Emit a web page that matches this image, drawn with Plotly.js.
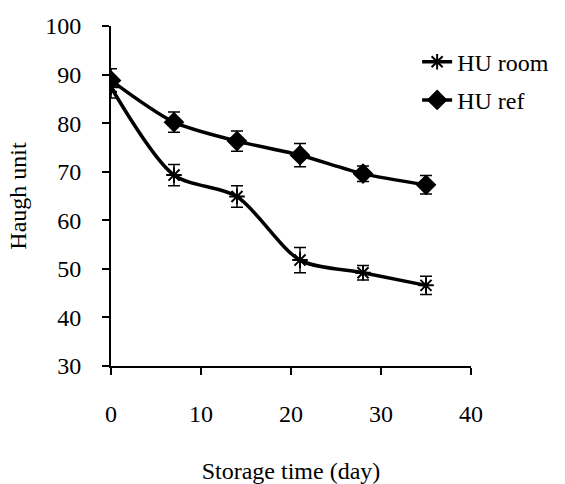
<!DOCTYPE html>
<html>
<head>
<meta charset="utf-8">
<script src="https://cdn.plot.ly/plotly-3.0.1.min.js"></script>
<style>html,body{margin:0;padding:0;background:#fff;}#chart{width:565px;height:484px;}</style>
</head>
<body>
<div id="chart"></div>
<script>
const days = [0, 7, 14, 21, 28, 35];
const huRoom = [87.4, 69.3, 64.9, 51.8, 49.2, 46.6];
const huRoomErr = [2.2, 2.2, 2.2, 2.6, 1.5, 1.9];
const huRef = [88.8, 80.2, 76.3, 73.4, 69.6, 67.3];
const huRefErr = [2.4, 2.1, 2.1, 2.4, 1.6, 1.9];
const seriesNames = ['HU room', 'HU ref'];

const font = {family: '"Liberation Serif", "DejaVu Serif", serif', color: '#000', size: 24};

const traces = [
  {
    x: days, y: huRoom, name: seriesNames[0], type: 'scatter', mode: 'lines+markers',
    line: {color: '#000', width: 3.5, shape: 'spline', smoothing: 0.8},
    marker: {symbol: 'asterisk-open', size: 13, color: '#000', line: {color: '#000', width: 2}},
    error_y: {type: 'data', array: huRoomErr, visible: true, color: '#000', thickness: 1.5, width: 6},
    legendgroup: 'a'
  },
  {
    x: days, y: huRef, name: seriesNames[1], type: 'scatter', mode: 'lines+markers',
    line: {color: '#000', width: 3.5, shape: 'spline', smoothing: 0.8},
    marker: {symbol: 'diamond', size: 16, color: '#000'},
    error_y: {type: 'data', array: huRefErr, visible: true, color: '#000', thickness: 1.5, width: 6},
    legendgroup: 'b'
  }
];

const layout = {
  width: 565, height: 484,
  margin: {l: 111, r: 93, t: 26, b: 118},
  paper_bgcolor: '#fff', plot_bgcolor: '#fff',
  font: font,
  showlegend: true,
  legend: {x: 0.848, y: 0.96, xanchor: 'left', yanchor: 'top', bgcolor: 'rgba(0,0,0,0)',
    font: font, tracegroupgap: 4, traceorder: 'grouped', itemwidth: 30},
  xaxis: {
    range: [0, 40], dtick: 10, tick0: 0, showgrid: false, zeroline: false,
    showline: true, linecolor: '#000', linewidth: 2,
    ticks: 'outside', ticklen: 7, tickwidth: 2, tickcolor: '#000',
    ticklabelstandoff: 18,
    tickfont: font,
    title: {text: 'Storage time (day)', font: font, standoff: 36}
  },
  yaxis: {
    range: [30, 100], dtick: 10, tick0: 30, showgrid: false, zeroline: false,
    showline: true, linecolor: '#000', linewidth: 2,
    ticks: 'outside', ticklen: 7, tickwidth: 2, tickcolor: '#000',
    ticklabelstandoff: 16,
    tickfont: font,
    title: {text: 'Haugh unit', font: font, standoff: 12}
  }
};

Plotly.newPlot('chart', traces, layout, {displayModeBar: false, staticPlot: true});
</script>
</body>
</html>
